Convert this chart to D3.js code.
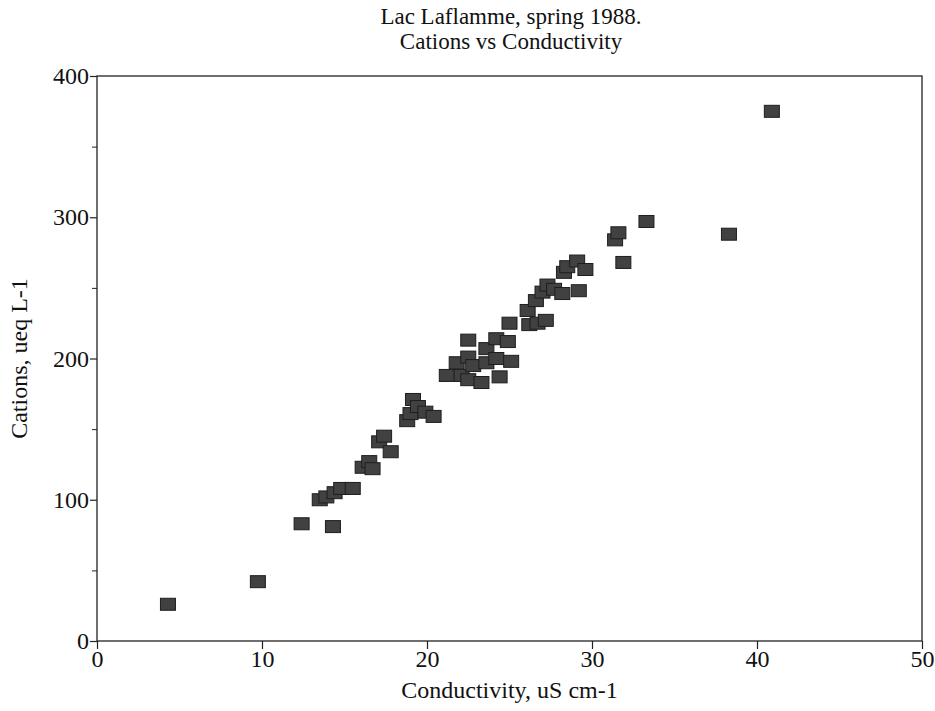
<!DOCTYPE html>
<html>
<head>
<meta charset="utf-8">
<script src="https://cdn.jsdelivr.net/npm/d3@7"></script>
<style>
  body { margin: 0; background: #fff; }
  text { font-family: "Liberation Serif", "DejaVu Serif", serif; fill: #111; }
</style>
</head>
<body>
<div id="svg_div"><svg width="935" height="711"></svg></div>
<script>
// Conductivity (uS cm-1) and cations (ueq L-1)
var conductivity = [4.3, 9.75, 12.4, 14.3, 13.5, 13.9, 14.4, 14.8, 15.5,
    16.1, 16.5, 16.7, 17.1, 17.4, 17.8,
    18.8, 19.0, 19.15, 19.45, 19.9, 20.4,
    21.2, 21.8, 22.1, 22.5, 22.5, 22.5, 22.8, 23.3, 23.6, 23.6, 24.2, 24.2, 24.4, 24.9, 25.1,
    25.0, 26.2, 26.7, 27.2,
    26.1, 26.6, 27.0, 27.3, 27.7, 28.2, 29.2, 28.3, 28.5, 29.1, 29.6,
    31.4, 31.6, 31.9, 33.3, 38.3, 40.9];
var cations = [26, 42, 83, 81, 100, 102, 105, 108, 108,
    123, 127, 122, 141, 145, 134,
    156, 161, 171, 166, 162, 159,
    188, 197, 188, 201, 185, 213, 195, 183, 197, 207, 200, 214, 187, 212, 198,
    225, 224, 225, 227,
    234, 241, 247, 252, 249, 246, 248, 261, 265, 269, 263,
    284, 289, 268, 297, 288, 375];

var xTicks = [0, 10, 20, 30, 40, 50];
var yTicks = [0, 100, 200, 300, 400];
var yMinor = [50, 150, 250, 350];
var titleLines = ["Lac Laflamme, spring 1988.", "Cations vs Conductivity"];
var xLabel = "Conductivity, uS cm-1";
var yLabel = "Cations, ueq L-1";

var data = conductivity.map(function(c, i) { return {x: c, y: cations[i]}; });

var svg = d3.select("#svg_div").select("svg");
var margin = {top: 76, left: 97, bottom: 70, right: 13};
var width = +svg.attr("width") - margin.left - margin.right;
var height = +svg.attr("height") - margin.top - margin.bottom;

var xScale = d3.scaleLinear().domain([0, 50]).range([0, width]);
var yScale = d3.scaleLinear().domain([0, 400]).range([height, 0]);

var g = svg.append("g")
    .attr("transform", "translate(" + [margin.left, margin.top] + ")");

// frame
g.append("rect")
    .attr("width", width).attr("height", height)
    .attr("fill", "none").attr("stroke", "#222").attr("stroke-width", 1.3);

// axes
var xAxisG = g.append("g")
    .attr("transform", "translate(0," + height + ")")
    .call(d3.axisBottom(xScale).tickValues(xTicks).tickSize(8).tickPadding(1));
var yAxisG = g.append("g")
    .call(d3.axisLeft(yScale).tickValues(yTicks).tickSize(7).tickPadding(1));
g.append("g")
    .call(d3.axisLeft(yScale).tickValues(yMinor).tickSize(5).tickFormat(""))
    .select(".domain").remove();

[xAxisG, yAxisG].forEach(function(a) {
    a.select(".domain").remove();
    a.selectAll("line").attr("stroke", "#222").attr("stroke-width", 1.2);
    a.selectAll("text").style("font-size", "24px").attr("fill", "#111")
        .style("font-family", "'Liberation Serif', serif");
});
g.selectAll("line").attr("stroke", "#222");

// points
g.selectAll(".pt")
    .data(data)
    .enter()
    .append("rect")
    .attr("class", "pt")
    .attr("x", function(d) { return xScale(d.x) - 7.5; })
    .attr("y", function(d) { return yScale(d.y) - 6; })
    .attr("width", 15)
    .attr("height", 12)
    .attr("fill", "#414141")
    .attr("stroke", "#1e1e1e")
    .attr("stroke-width", 1);

// titles
svg.selectAll(".title")
    .data(titleLines)
    .enter()
    .append("text")
    .attr("class", "title")
    .attr("x", 511)
    .attr("y", function(d, i) { return 24 + i * 25; })
    .attr("text-anchor", "middle")
    .style("font-size", "23px")
    .text(function(d) { return d; });

svg.append("text")
    .attr("x", margin.left + width / 2)
    .attr("y", 698)
    .attr("text-anchor", "middle")
    .style("font-size", "24px")
    .text(xLabel);

svg.append("text")
    .attr("transform", "translate(27," + (margin.top + height / 2) + ") rotate(-90)")
    .attr("text-anchor", "middle")
    .style("font-size", "24px")
    .text(yLabel);
</script>
</body>
</html>
